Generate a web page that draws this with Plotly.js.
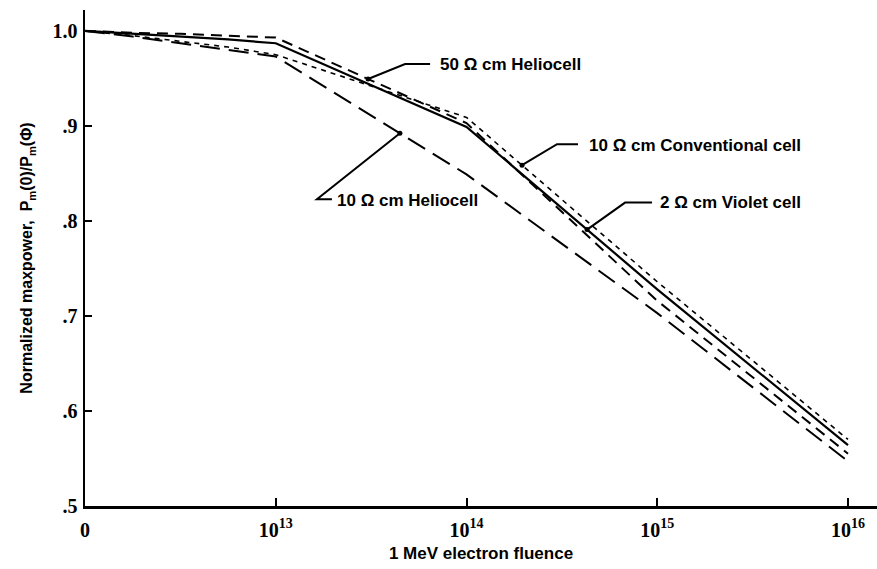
<!DOCTYPE html>
<html>
<head>
<meta charset="utf-8">
<script src="https://cdn.plot.ly/plotly-3.0.1.min.js"></script>
<style>
  html, body { margin: 0; padding: 0; background: #fff; }
  #chart { width: 877px; height: 569px; }
</style>
</head>
<body>
<div id="chart"></div>
<script>
// Axis positions: 0 -> "0", 1 -> 10^13, 2 -> 10^14, 3 -> 10^15, 4 -> 10^16
const fluencePos = [0, 0.25, 0.5, 0.75, 1, 2, 3, 4];
const tickPos = [0, 1, 2, 3, 4];
const tickLabels = ['0', '10<sup>13</sup>', '10<sup>14</sup>', '10<sup>15</sup>', '10<sup>16</sup>'];

const violet2 = [1.000, 0.997, 0.994, 0.991, 0.987, 0.899, 0.728, 0.564];
const helio50 = [1.000, 0.998, 0.997, 0.995, 0.993, 0.903, 0.716, 0.555];
const conv10  = [1.000, 0.995, 0.989, 0.983, 0.975, 0.909, 0.736, 0.570];
const helio10 = [1.000, 0.994, 0.987, 0.980, 0.973, 0.849, 0.703, 0.547];

const yTickVals = [0.5, 0.6, 0.7, 0.8, 0.9, 1.0];
const yTickText = ['.5', '.6', '.7', '.8', '.9', '1.0'];

const labelText = ['50 \u03A9 cm Heliocell', '10 \u03A9 cm Conventional cell', '2 \u03A9 cm Violet cell', '10 \u03A9 cm Heliocell'];
const labelSeries = [helio50, conv10, violet2, helio10];
const labelAt = [1.484, 2.291, 2.632, 1.651];

function interp(xs, ys, x) {
  for (let i = 0; i < xs.length - 1; i++) {
    if (x >= xs[i] && x <= xs[i + 1]) {
      const t = (x - xs[i]) / (xs[i + 1] - xs[i]);
      return ys[i] + t * (ys[i + 1] - ys[i]);
    }
  }
  return ys[ys.length - 1];
}

// leader geometry in pixels relative to the dot (y up positive)
const leaders = [
  {bend: [37, 15], end: [62, 15], text: [70, 14]},
  {bend: [35, 21], end: [56, 21], text: [65, 20]},
  {bend: [38, 27], end: [65, 27], text: [71, 27]},
  {bend: [-83, -66], end: [-68, -66], text: [-65, -67]}
];

const traces = [
  {x: fluencePos, y: violet2, name: '2 \u03A9 cm Violet cell', mode: 'lines',
   line: {color: '#000', width: 2.2, dash: 'solid'}},
  {x: fluencePos, y: helio50, name: '50 \u03A9 cm Heliocell', mode: 'lines',
   line: {color: '#000', width: 2, dash: '11px,7px'}},
  {x: fluencePos, y: conv10, name: '10 \u03A9 cm Conventional cell', mode: 'lines',
   line: {color: '#000', width: 1.6, dash: '5px,5px'}},
  {x: fluencePos, y: helio10, name: '10 \u03A9 cm Heliocell', mode: 'lines',
   line: {color: '#000', width: 2, dash: '20px,9px'}}
];

const annotations = [];
const shapes = [];
for (let i = 0; i < labelText.length; i++) {
  const lx = labelAt[i];
  const ly = interp(fluencePos, labelSeries[i], lx);
  const g = leaders[i];
  annotations.push({
    x: lx, y: ly, xref: 'x', yref: 'y', text: labelText[i], showarrow: false,
    xanchor: 'left', yanchor: 'middle', xshift: g.text[0], yshift: g.text[1],
    font: {family: 'Liberation Sans, Arial, sans-serif', size: 17, color: '#000', weight: 'bold'}
  });
  shapes.push({
    type: 'path', xref: 'x', yref: 'y', xsizemode: 'pixel', ysizemode: 'pixel',
    xanchor: lx, yanchor: ly,
    path: 'M 0,0 L ' + g.bend[0] + ',' + g.bend[1] + ' L ' + g.end[0] + ',' + g.end[1],
    line: {color: '#000', width: 2}
  });
  shapes.push({
    type: 'circle', xref: 'x', yref: 'y', xsizemode: 'pixel', ysizemode: 'pixel',
    xanchor: lx, yanchor: ly, x0: -2.5, x1: 2.5, y0: -2.5, y1: 2.5,
    fillcolor: '#000', line: {color: '#000', width: 0}
  });
}

const layout = {
  width: 877, height: 569,
  margin: {l: 85, r: 0, t: 10, b: 63},
  paper_bgcolor: '#fff', plot_bgcolor: '#fff',
  showlegend: false,
  xaxis: {
    range: [0, 4.152], showgrid: false, zeroline: false,
    showline: true, linecolor: '#000', linewidth: 2.5,
    tickmode: 'array', tickvals: tickPos, ticktext: tickLabels,
    ticks: 'inside', ticklen: 8, tickwidth: 2, tickcolor: '#000',
    ticklabelstandoff: 4,
    tickfont: {family: 'Liberation Serif, Times New Roman, serif', size: 20, color: '#000', weight: 'bold'},
    title: {text: '1 MeV electron fluence', standoff: 8,
      font: {family: 'Liberation Sans, Arial, sans-serif', size: 17, color: '#000', weight: 'bold'}},
    fixedrange: true
  },
  yaxis: {
    range: [0.5, 1.022], showgrid: false, zeroline: false,
    showline: true, linecolor: '#000', linewidth: 2.5,
    tickmode: 'array', tickvals: yTickVals, ticktext: yTickText,
    ticks: 'inside', ticklen: 7, tickwidth: 2, tickcolor: '#000',
    ticklabelstandoff: 1,
    tickfont: {family: 'Liberation Serif, Times New Roman, serif', size: 20, color: '#000', weight: 'bold'},
    title: {text: 'Normalized maxpower,  P<sub>m</sub>(0)/P<sub>m</sub>(\u03A6)', standoff: 16,
      font: {family: 'Liberation Sans, Arial, sans-serif', size: 16, color: '#000', weight: 'bold'}},
    fixedrange: true
  },
  annotations: annotations,
  shapes: shapes
};

Plotly.newPlot('chart', traces, layout, {displayModeBar: false, staticPlot: true});
</script>
</body>
</html>
